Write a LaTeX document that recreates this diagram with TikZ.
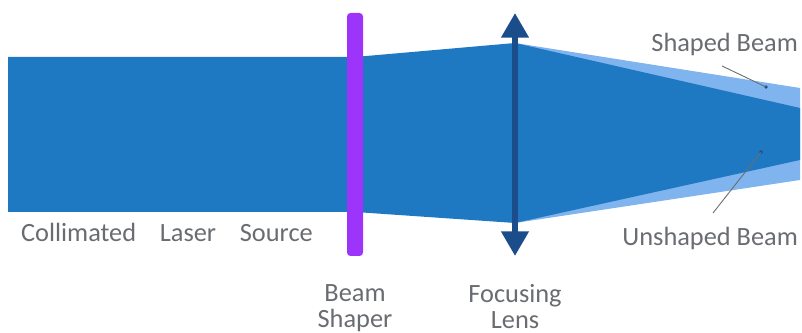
\documentclass[tikz,border=0pt]{standalone}
\usepackage{fontspec}
\setmainfont{Carlito}
\usetikzlibrary{arrows.meta}
\begin{document}
\begin{tikzpicture}[x=0.02cm,y=-0.02cm]
\definecolor{beamblue}{RGB}{31,121,194}
\definecolor{shapedblue}{RGB}{128,180,238}
\definecolor{shaperpurple}{RGB}{156,52,250}
\definecolor{lensblue}{RGB}{26,77,138}
\definecolor{labelgray}{RGB}{105,108,112}
\tikzset{lbl/.style={text=labelgray,font=\fontsize{15}{15}\selectfont,inner sep=1pt},
  pointer/.style={draw=labelgray,line width=0.5pt}}
\useasboundingbox (0,0) rectangle (802,333);
% shaped beam behind the unshaped one
\fill[shapedblue] (515,43)--(800,88)--(800,180)--(515,223)--cycle;
% collimated beam, widened by the shaper, focused by the lens
\fill[beamblue] (8,57)--(355,57)--(515,43)--(800,108)--(800,160)--(515,223)--(355,212)--(8,212)--cycle;
% beam shaper
\fill[shaperpurple,rounded corners=2pt] (347,13) rectangle (363,256);
% focusing lens
\draw[lensblue,line width=3.4pt,{Triangle[width=15pt,length=14pt]}-{Triangle[width=15pt,length=14pt]}] (515,13)--(515,256);
\node[lbl] (src) at (167,232) {Collimated\hspace{0.9em}Laser\hspace{0.9em}Source};
\node[lbl,align=center,anchor=north] (shaper) at (355,282) {Beam\\Shaper};
\node[lbl,align=center,anchor=north] (lens) at (515,282) {Focusing\\Lens};
\node[lbl,anchor=east] (shaped) at (800,44) {Shaped Beam};
\node[lbl,anchor=east] (unshaped) at (800,238) {Unshaped Beam};
\coordinate (sdot) at (766,87);
\coordinate (udot) at (761,152);
\coordinate (sfrom) at (722,66);
\coordinate (ufrom) at (713,213);
\fill[lensblue] (sdot) circle (1.8);
\fill[lensblue] (udot) circle (1.8);
\draw[pointer] (sfrom) -- (sdot);
\draw[pointer] (ufrom) -- (udot);
\end{tikzpicture}
\end{document}
